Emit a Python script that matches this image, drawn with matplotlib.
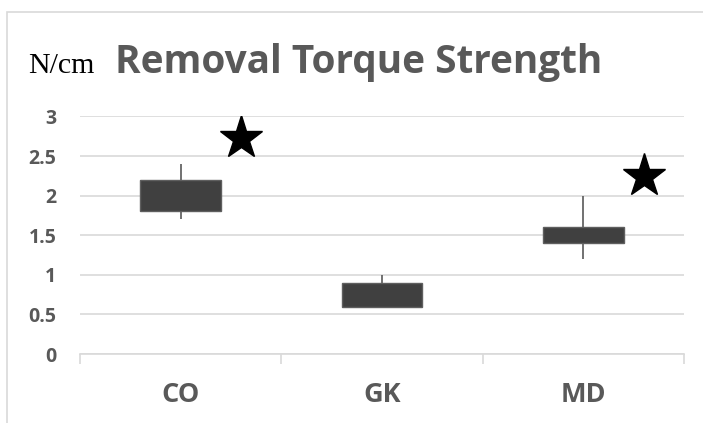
import matplotlib

matplotlib.use("Agg")
import matplotlib.pyplot as plt
from matplotlib.patches import Rectangle

groups = ["CO", "GK", "MD"]
low = [1.7, 0.6, 1.2]
q1 = [1.8, 0.6, 1.4]
q3 = [2.2, 0.9, 1.6]
high = [2.4, 1.0, 2.0]
star_x = [0.3, 2.3]
star_y = [2.73, 2.245]
y_ticks = [0, 0.5, 1, 1.5, 2, 2.5, 3]
y_labels = ["0", "0.5", "1", "1.5", "2", "2.5", "3"]

W, H = 703, 423
TEXT = "#595959"
GRID = "#d9d9d9"

fig = plt.figure(figsize=(W / 100, H / 100), dpi=100)
ax = fig.add_axes([80 / W, 1 - 354 / H, 604 / W, (354 - 116.5) / H])

xs = list(range(len(groups)))
ax.vlines(xs, low, high, color=TEXT, linewidth=1.2, zorder=2)
heights = [b - a for a, b in zip(q1, q3)]
ax.bar(xs, heights, bottom=q1, width=0.4, color="#404040",
       edgecolor="#5f5f5f", linewidth=1, zorder=3)
ax.plot(star_x, star_y, linestyle="none", marker="*", markersize=32.5,
        color="black", zorder=4)

ax.set_xlim(-0.5, 2.5)
ax.set_ylim(0, 3)
ax.set_yticks(y_ticks)
ax.set_yticklabels(y_labels)
ax.set_xticks(xs)
ax.set_xticklabels(groups)
ax.set_xticks([-0.5, 0.5, 1.5, 2.5], minor=True)

ax.grid(axis="y", color=GRID, linewidth=1.2, zorder=0)
for side in ("left", "right", "top"):
    ax.spines[side].set_visible(False)
ax.spines["bottom"].set_color(GRID)
ax.spines["bottom"].set_linewidth(1.2)

ax.tick_params(axis="y", length=0, pad=17, labelsize=14, labelcolor=TEXT)
ax.tick_params(axis="x", which="major", length=0, pad=20, labelsize=19.5,
               labelcolor=TEXT)
ax.tick_params(axis="x", which="minor", length=7, width=1.2, color=GRID,
               direction="out")
for lab in ax.get_yticklabels() + ax.get_xticklabels():
    lab.set_fontfamily("Open Sans")
    lab.set_fontweight("bold")

fig.text(28 / W, 1 - 73 / H, "N/cm", family="Liberation Serif", fontsize=21.5,
         color="black", ha="left", va="baseline")

title = fig.text(115 / W, 1 - 73 / H, "Removal Torque Strength",
                 family="Open Sans", fontweight="bold", fontsize=30,
                 color=TEXT, ha="left", va="baseline")
# squeeze the title to the width of the original Calibri heading
fig.canvas.draw()
bb = title.get_window_extent()
title.set_fontsize(30 * 488 / bb.width)

fig.patches.append(Rectangle((7 / W, -0.1), 1.2, 1.1 - 12 / H,
                             transform=fig.transFigure, fill=False,
                             edgecolor=GRID, linewidth=1.2))

fig.savefig("out.png", dpi=100)
